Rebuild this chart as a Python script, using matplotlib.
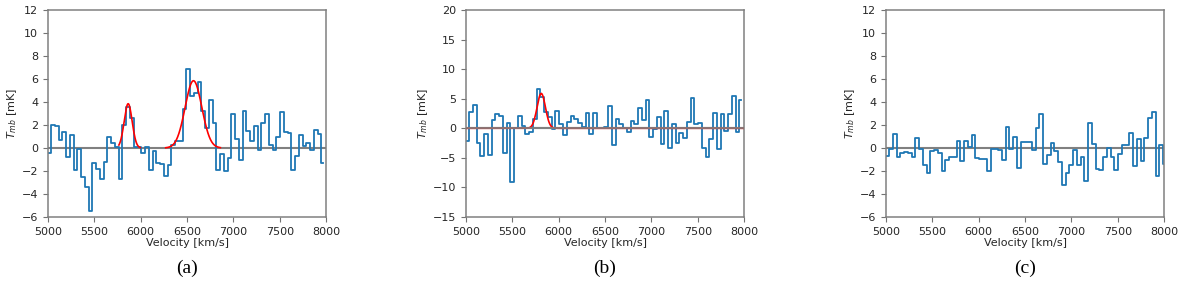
import numpy as np
import matplotlib
matplotlib.use("Agg")
import matplotlib.pyplot as plt

# channel grid (km/s): centre of the first listed channel and channel width
chan_start = 4973.5
chan_width = 40.5

# spectrum (a): channels k=-1..73
tmb_a = [-0.4, -0.4, 2.0, 1.9, 0.7, 1.4, -0.8, 1.1, -1.9, -0.1, -2.5,
         -3.4, -5.5, -1.3, -1.8, -2.7, -1.2, 1.0, 0.4, 0.1, -2.7,
         2.0, 3.6, 2.6, 0.1, 0.1, -0.4, 0.1, -1.9, -0.3, -1.3,
         -1.4, -2.4, -1.5, 0.3, 0.6, 0.6, 3.4, 6.9, 4.5, 4.8,
         5.7, 3.2, 1.7, 4.2, 2.2, -1.9, -0.5, -2.0, -0.9, 3.0,
         0.8, -1.0, 3.2, 1.5, 0.6, 1.9, -0.2, 2.2, 3.0, 0.3,
         -0.2, 1.0, 3.1, 1.4, 1.3, -1.9, -0.7, 1.1, 0.2, 0.4,
         -0.2, 1.6, 1.2, -1.3]
# spectrum (b): channels k=0..73
tmb_b = [-2.1, 2.8, 3.9, -2.5, -4.7, -1.0, -4.5, 1.35, 2.4, 2.0,
         -4.2, 0.9, -9.1, 0.1, 2.0, 0.45, -0.95, -0.55, 1.5, 6.6,
         5.3, 2.8, 1.85, -0.1, 2.9, 0.7, -1.2, 1.1, 2.1, 1.6,
         0.9, 0.3, 2.6, -0.9, 2.6, 0.05, 0.05, 0.3, 3.8, -2.8,
         1.5, 0.8, 0.1, -0.55, 1.25, 0.7, 3.5, 1.45, 4.8, -1.5,
         -0.15, 1.9, -2.6, 3.0, -3.4, 0.7, -2.5, -0.85, -1.7, 1.0,
         5.2, 0.8, 0.85, -3.3, -4.9, -1.85, 2.65, -3.55, 2.35, -0.4,
         2.4, 5.4, -0.55, 4.8]
# spectrum (c): channels k=-1..74
tmb_c = [0.8, -0.7, -0.1, 1.2, -0.8, -0.45, -0.35, -0.45, -0.75, 0.9,
         -0.05, -1.45, -2.15, -0.25, -0.2, -0.4, -2.0, -1.0, -0.8, -0.75,
         0.6, -1.15, 0.65, 0.1, 1.15, -0.85, -0.95, -0.95, -2.0, -0.1,
         -0.05, -0.2, -1.0, 1.8, -0.1, 1.0, -1.75, 0.55, 0.5, 0.5,
         -0.2, 1.75, 2.95, -1.35, -0.65, 0.4, -0.25, -1.25, -3.2, -2.15,
         -1.5, -0.2, -1.5, -0.75, -2.9, 2.2, 0.35, -1.8, -1.95, -0.8,
         0.0, -0.8, -1.95, -0.5, 0.3, 0.3, 1.3, -1.55, 0.75, -1.15,
         0.9, 2.6, 3.1, -2.4, 0.3, -1.35]
first_chan = {"a": 0, "b": 1, "c": 0}

# gaussian fits: (amplitude mK, centre km/s, sigma km/s, v_min, v_max)
fits_a = [(3.85, 5865, 43, 5765, 5995), (5.85, 6570, 90, 6270, 6860)]
fits_b = [(5.9, 5812, 45, 5000, 8000)]

ylims = {"a": (-6, 12), "b": (-15, 20), "c": (-6, 12)}
ystep = {"a": 2, "b": 5, "c": 2}
panels = [("a", tmb_a, fits_a), ("b", tmb_b, fits_b), ("c", tmb_c, [])]
lefts = [48, 466, 886]

fig = plt.figure(figsize=(12, 2.82), dpi=100)
for (name, tmb, fits), left in zip(panels, lefts):
    ax = fig.add_axes([left / 1200, 1 - 217 / 282, 278 / 1200, 207 / 282])
    vel = chan_start + chan_width * (first_chan[name] + np.arange(len(tmb)))
    ax.axhline(0, color="grey", lw=1.5, zorder=1)
    ax.plot(vel, tmb, drawstyle="steps-mid", color="#1f77b4", lw=1.3, zorder=2)
    for amp, cen, sig, vmin, vmax in fits:
        x = np.linspace(vmin, vmax, 400)
        ax.plot(x, amp * np.exp(-(x - cen) ** 2 / (2 * sig ** 2)),
                color="red", lw=1.2, zorder=3)
    if name == "b":
        # the fitted curve runs along zero, half hidden under the baseline
        ax.axhline(0, color="grey", lw=1.5, alpha=0.85, zorder=4)
    ax.set_xlim(5000, 8000)
    ax.set_ylim(*ylims[name])
    ax.set_xticks(np.arange(5000, 8001, 500))
    ax.set_yticks(np.arange(ylims[name][0], ylims[name][1] + 1, ystep[name]))
    ax.tick_params(labelsize=8, colors="0.45", labelcolor="0.15", length=3.5)
    for sp in ax.spines.values():
        sp.set_color("0.5")
        sp.set_linewidth(1.1)
    ax.set_xlabel("Velocity [km/s]", fontsize=8, color="0.15", labelpad=1)
    ax.set_ylabel("$T_{mb}$ [mK]", fontsize=8, color="0.15", labelpad=2)
    fig.text((left + 139) / 1200, 1 - 268 / 282, f"({name})",
             ha="center", va="center", fontsize=14, family="Liberation Serif")

fig.savefig("out.png", dpi=100)
